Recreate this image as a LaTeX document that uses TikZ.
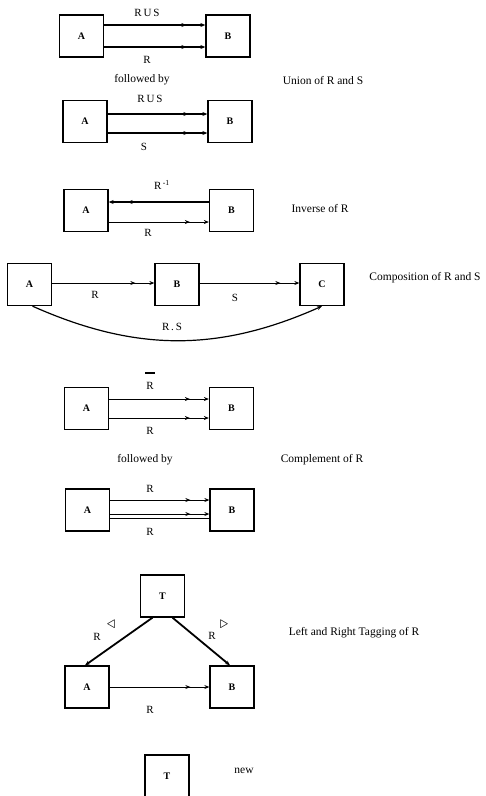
\documentclass[tikz,border=0pt]{standalone}
\usepackage{fontspec}
\setmainfont{Liberation Serif}
\usepackage{amssymb}
\usetikzlibrary{arrows.meta,positioning,calc}

\begin{document}
\begin{tikzpicture}[x=1pt,y=-1pt,
    set/.style={draw,line width=1.3pt,minimum width=44pt,minimum height=42pt,font=\bfseries\fontsize{10}{12}\selectfont},
    rel/.style={line width=1.2pt,-{Stealth[length=5pt,width=4pt,sep=14pt]Stealth[length=5pt,width=4pt]}},
    thinrel/.style={rel,line width=0.8pt},
    lab/.style={font=\fontsize{11}{13}\selectfont},
    caption/.style={font=\fontsize{11.5}{13}\selectfont}]
        \useasboundingbox (0,0) rectangle (486,796);
        % union
        \node[set] (A1) at (81.5,36) {A};
        \node[set] (B1) at (228,36) {B};
        \draw[rel] ([yshift=11pt]A1.east) -- ([yshift=11pt]B1.west);
        \draw[rel] ([yshift=-11pt]A1.east) -- ([yshift=-11pt]B1.west);
        \node[lab] (ru1) at (147,13) {R\,U\,S};
        \node[lab] (r1) at (147,60) {R};
        \node[caption] (fol1) at (142,80) {followed by};
        \node[caption] (cap1) at (323,81) {Union of R and S};
        \node[set] (A2) at (85,121.5) {A};
        \node[set] (B2) at (230,121.5) {B};
        \draw[rel] ([yshift=7.5pt]A2.east) -- ([yshift=7.5pt]B2.west);
        \draw[rel] ([yshift=-11.5pt]A2.east) -- ([yshift=-11.5pt]B2.west);
        \node[lab] (ru2) at (150,99) {R\,U\,S};
        \node[lab] (s2) at (144,147) {S};
        % inverse
        \node[set] (A3) at (86,210.5) {A};
        \node[set] (B3) at (231.5,210.5) {B};
        \draw[rel] ([yshift=8.5pt]B3.west) -- ([yshift=8.5pt]A3.east);
        \draw[thinrel] ([yshift=-11.5pt]A3.east) -- ([yshift=-11.5pt]B3.west);
        \node[lab] (rinv) at (162,185) {R\textsuperscript{\,-1}};
        \node[lab] (r3) at (148,233) {R};
        \node[caption] (cap3) at (320,209) {Inverse of R};
        % composition
        \node[set] (A4) at (29.5,284.5) {A};
        \node[set] (B4) at (177,284.5) {B};
        \node[set] (C4) at (322,284.5) {C};
        \draw[thinrel] ([yshift=1.5pt]A4.east) -- ([yshift=1.5pt]B4.west);
        \draw[thinrel] ([yshift=1.5pt]B4.east) -- ([yshift=1.5pt]C4.west);
        \draw[line width=1.2pt,-{Stealth[length=5pt,width=4pt]}] ([xshift=3pt]A4.south) to[bend right=24] (C4.south);
        \node[lab] (r4) at (95,295) {R};
        \node[lab] (s4) at (235,298) {S};
        \node[lab] (rs4) at (172,327) {R\,.\,S};
        \node[caption] (cap4) at (425,278) {Composition of R and S};
        % complement
        \node[set] (A5) at (86.5,408.5) {A};
        \node[set] (B5) at (231.5,408.5) {B};
        \draw[thinrel] ([yshift=9.5pt]A5.east) -- ([yshift=9.5pt]B5.west);
        \draw[thinrel] ([yshift=-9.5pt]A5.east) -- ([yshift=-9.5pt]B5.west);
        \node[lab,align=center,inner sep=1pt] (rbar) at (150,381) {\rule{10pt}{1.6pt}\\[3pt]R};
        \node[lab] (r5) at (150,431) {R};
        \node[caption] (fol5) at (145,460) {followed by};
        \node[caption] (cap5) at (322,460) {Complement of R};
        \node[set] (A6) at (87.5,510) {A};
        \node[set] (B6) at (232,510) {B};
        \draw[thinrel] ([yshift=10pt]A6.east) -- ([yshift=10pt]B6.west);
        \draw[line width=0.8pt,-{Stealth[open,length=5pt,width=4pt,sep=14pt]Stealth[open,length=5pt,width=4pt]}] ([yshift=-4pt]A6.east) -- ([yshift=-4pt]B6.west);
        \draw[line width=0.8pt] ([yshift=-8pt]A6.east) -- ([yshift=-8pt]B6.west);
        \node[lab] (r6a) at (150,489) {R};
        \node[lab] (r6b) at (150,532) {R};
        % tagging
        \node[set] (T7) at (162.5,596) {T};
        \node[set] (A7) at (87,687) {A};
        \node[set] (B7) at (232,687) {B};
        \draw[line width=1.8pt,-{Stealth[length=5pt,width=4pt]}] ([xshift=-10pt]T7.south) -- ([xshift=-2pt]A7.north);
        \draw[line width=1.8pt,-{Stealth[length=5pt,width=4pt]}] ([xshift=10pt]T7.south) -- ([xshift=-2pt]B7.north);
        \draw[thinrel] (A7) -- (B7);
        \node[lab] (rl) at (97,637) {R};
        \node[font=\fontsize{16}{16}\selectfont] (tl) at (111,624) {$\triangleleft$};
        \node[lab] (rr) at (212,636) {R};
        \node[font=\fontsize{16}{16}\selectfont] (tr) at (224,624) {$\triangleright$};
        \node[lab] (r7) at (150,710) {R};
        \node[caption] (cap7) at (354,633) {Left and Right Tagging of R};
        % new
        \node[set] (T8) at (167,776) {T};
        \node[caption] (cap8) at (244,771) {new};
      \end{tikzpicture}
\end{document}
